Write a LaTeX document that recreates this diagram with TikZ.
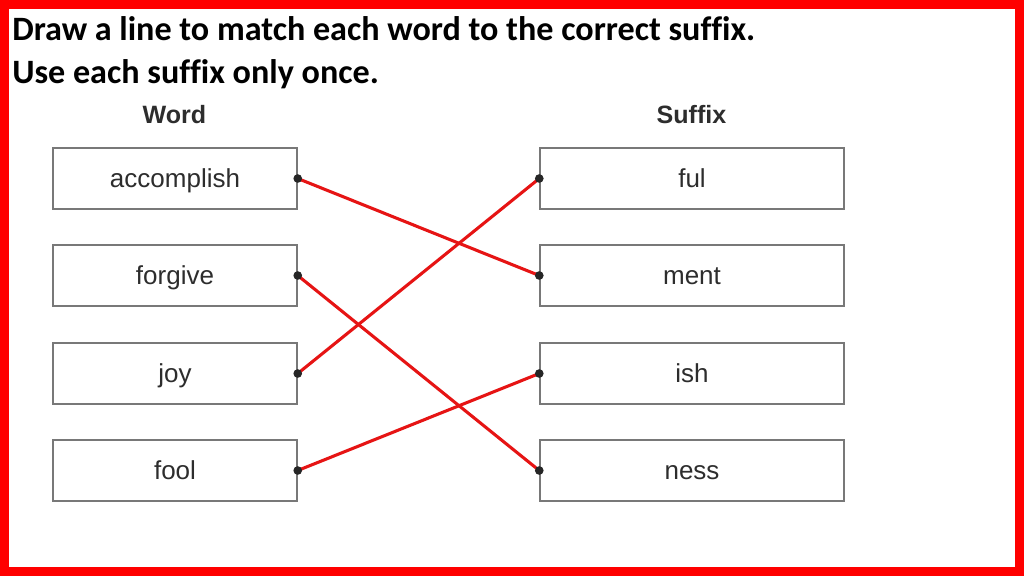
\documentclass[tikz,border=0pt]{standalone}
\usepackage{fontspec}
\setmainfont{Liberation Sans}
\newfontfamily\titlefont[Ligatures=NoCommon]{Carlito}
\definecolor{framered}{RGB}{255,0,0}
\definecolor{linered}{RGB}{230,20,20}
\definecolor{boxgray}{RGB}{120,120,120}
\definecolor{textgray}{RGB}{45,45,45}
\begin{document}
\begin{tikzpicture}[x=0.75pt,y=-0.75pt,
  wordbox/.style={draw=boxgray,line width=1.1pt,minimum width=183pt,minimum height=45.75pt,inner sep=0pt,
    text height=14.5pt,text depth=1pt,
    font=\fontsize{19.5}{22}\selectfont,text=textgray},
  suffixbox/.style={wordbox,minimum width=228pt},
  header/.style={font=\fontsize{18.8}{20}\selectfont\bfseries,text=textgray,inner sep=0pt},
  titletext/.style={font=\titlefont\fontsize{25.6}{30}\selectfont\bfseries,inner sep=0pt,anchor=base west},
  matchline/.style={draw=linered,line width=2.3pt},
  dotmark/.style={fill=black!85,draw=none,circle,minimum size=6.5pt,inner sep=0pt}]
\useasboundingbox (0,0) rectangle (1024,576);
\fill[white] (0,0) rectangle (1024,576);
\draw[framered,line width=6.75pt] (4.5,4.5) rectangle (1019.5,571.5);
\node[titletext] (t1) at (12,40) {Draw a line to match each word to the correct suffix.};
\node[titletext] (t2) at (12,83) {Use each suffix only once.};
\node[header] (hw) at (174.5,115) {Word};
\node[header] (hs) at (691.5,115) {Suffix};
\node[wordbox] (w1) at (175,178.5) {accomplish};
\node[wordbox] (w2) at (175,275.5) {forgive};
\node[wordbox] (w3) at (175,373.5) {joy};
\node[wordbox] (w4) at (175,470.5) {fool};
\node[suffixbox] (s1) at (692,178.5) {ful};
\node[suffixbox] (s2) at (692,275.5) {ment};
\node[suffixbox] (s3) at (692,373.5) {ish};
\node[suffixbox] (s4) at (692,470.5) {ness};
\draw[matchline] (w1.east) -- (s2.west);
\draw[matchline] (w2.east) -- (s4.west);
\draw[matchline] (w3.east) -- (s1.west);
\draw[matchline] (w4.east) -- (s3.west);
\foreach \n in {w1,w2,w3,w4}{\node[dotmark] at (\n.east) {};}
\foreach \n in {s1,s2,s3,s4}{\node[dotmark] at (\n.west) {};}
\end{tikzpicture}
\end{document}
